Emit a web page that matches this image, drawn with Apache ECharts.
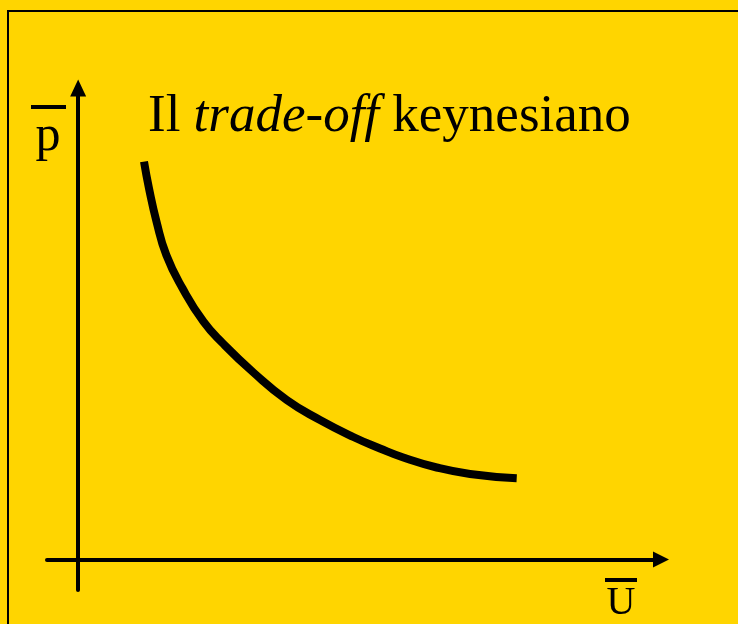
<!DOCTYPE html>
<html>
<head>
<meta charset="utf-8">
<script src="https://cdn.jsdelivr.net/npm/echarts@6/dist/echarts.min.js"></script>
<style>
  html, body { margin: 0; padding: 0; background: #FFD500; }
  #c1 { width: 738px; height: 624px; }
</style>
</head>
<body>
<div id="c1"></div>
<script>
var curveU = [10.57, 11.37, 12.58, 14.15, 16.75, 20.12, 23.25, 28.11, 33.48, 38.82, 44.17, 48.45, 52.19, 57.55, 62.90, 70.39];
var curveP = [77.98, 72.76, 66.22, 59.69, 53.16, 46.61, 42.33, 36.67, 31.25, 27.33, 24.00, 21.75, 19.98, 18.02, 16.75, 15.90];

var titleText = 'Il {i|trade-off} keynesiano';
var yLabel = 'p';
var xLabel = 'U';

var points = [];
for (var i = 0; i < curveU.length; i++) {
    points.push([curveU[i], curveP[i]]);
}

var ec = echarts.init(document.getElementById('c1'));

var option = {
    backgroundColor: '#FFD500',
    animation: false,
    title: {
        text: titleText,
        left: 143,
        top: 86,
        textStyle: {
            fontFamily: 'Liberation Serif',
            fontSize: 53,
            fontWeight: 'normal',
            color: '#000',
            rich: {
                i: {
                    fontFamily: 'Liberation Serif',
                    fontSize: 53,
                    fontStyle: 'italic',
                    color: '#000'
                }
            }
        }
    },
    grid: {
        left: 47,
        right: 77,
        top: 88,
        bottom: 34
    },
    xAxis: {
        type: 'value',
        min: -5,
        max: 93.55,
        axisLine: {
            onZero: true,
            symbol: ['none', 'triangle'],
            symbolSize: [16, 16],
            lineStyle: { color: '#000', width: 4 }
        },
        axisTick: { show: false },
        axisLabel: { show: false },
        splitLine: { show: false }
    },
    yAxis: {
        type: 'value',
        min: -6,
        max: 92.43,
        axisLine: {
            onZero: true,
            symbol: ['none', 'triangle'],
            symbolSize: [16, 17],
            lineStyle: { color: '#000', width: 4 }
        },
        axisTick: { show: false },
        axisLabel: { show: false },
        splitLine: { show: false }
    },
    graphic: [
        {   // cornice
            type: 'rect',
            shape: { x: 8, y: 11, width: 800, height: 700 },
            style: { fill: 'none', stroke: '#000', lineWidth: 2 },
            silent: true
        },
        {
            type: 'rect',
            shape: { x: 31, y: 105, width: 35, height: 4 },
            style: { fill: '#000' }
        },
        {
            type: 'text',
            x: 48,
            y: 112,
            style: {
                text: yLabel,
                fontFamily: 'Liberation Serif',
                fontSize: 50,
                fill: '#000',
                align: 'center'
            }
        },
        {
            type: 'rect',
            shape: { x: 605, y: 578, width: 32, height: 4 },
            style: { fill: '#000' }
        },
        {
            type: 'text',
            x: 621,
            y: 583,
            style: {
                text: xLabel,
                fontFamily: 'Liberation Serif',
                fontSize: 40,
                fill: '#000',
                align: 'center'
            }
        }
    ],
    series: [{
        type: 'line',
        data: points,
        smooth: true,
        symbol: 'none',
        lineStyle: { color: '#000', width: 8, cap: 'butt' }
    }]
};

ec.setOption(option);
</script>
</body>
</html>
